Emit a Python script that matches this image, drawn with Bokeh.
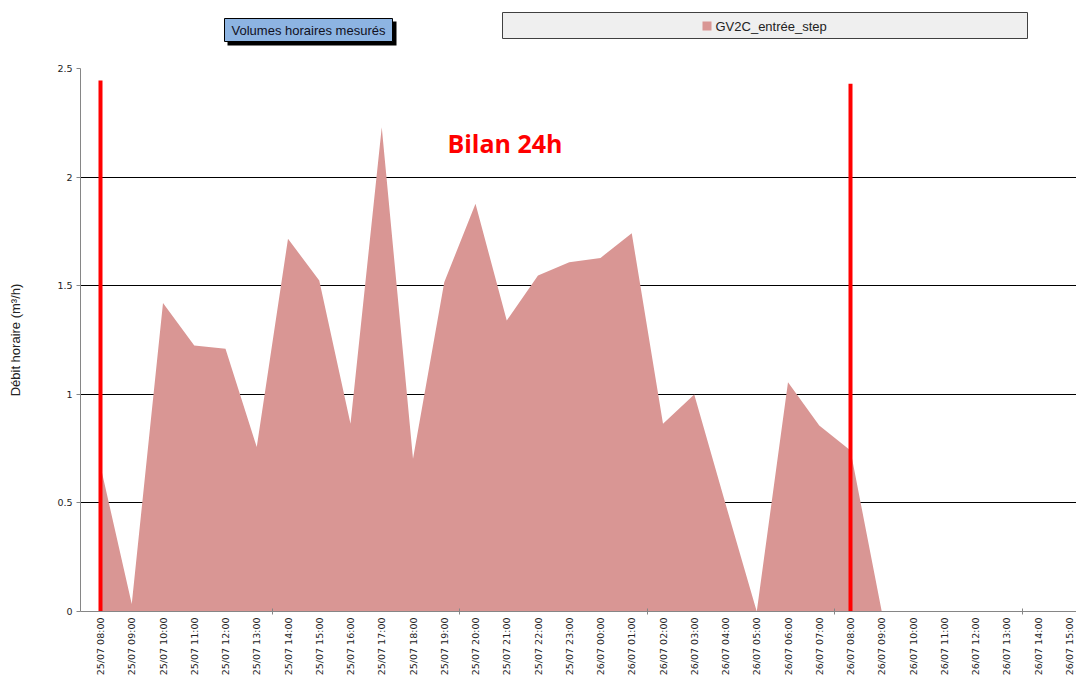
import math
from bokeh.plotting import figure
from bokeh.models import Range1d, FixedTicker, NumeralTickFormatter, Label
from bokeh.layouts import column
from bokeh.embed import file_html
from bokeh.resources import INLINE
from bokeh.core.properties import value

# ---------------- data ----------------
hours = [
    "25/07 08:00", "25/07 09:00", "25/07 10:00", "25/07 11:00", "25/07 12:00",
    "25/07 13:00", "25/07 14:00", "25/07 15:00", "25/07 16:00", "25/07 17:00",
    "25/07 18:00", "25/07 19:00", "25/07 20:00", "25/07 21:00", "25/07 22:00",
    "25/07 23:00", "26/07 00:00", "26/07 01:00", "26/07 02:00", "26/07 03:00",
    "26/07 04:00", "26/07 05:00", "26/07 06:00", "26/07 07:00", "26/07 08:00",
    "26/07 09:00", "26/07 10:00", "26/07 11:00", "26/07 12:00", "26/07 13:00",
    "26/07 14:00", "26/07 15:00",
]
# GV2C_entrée_step, m3/h (values exist up to 26/07 09:00)
debit = [
    0.67, 0.035, 1.42, 1.225, 1.21, 0.757, 1.716, 1.524, 0.864, 2.23,
    0.703, 1.516, 1.877, 1.34, 1.547, 1.608, 1.628, 1.742, 0.864, 0.999,
    0.496, 0.0, 1.056, 0.856, 0.741, 0.0,
]
y_ticks = [0, 0.5, 1, 1.5, 2, 2.5]
bilan_hours = ["25/07 08:00", "26/07 08:00"]
bilan_tops = [2.445, 2.43]

# ---------------- layout constants ----------------
W = 1076
LEFT = 80
HEAD_H = 48
MAIN_H = 631
AREA_COLOR = "#D99694"

idx = list(range(len(debit)))
bilan_x = [hours.index(h) for h in bilan_hours]
step = 31.25
x0 = -20 / step
x1 = x0 + (W - LEFT) / step

# ---------------- header figure (page-pixel coordinates) ----------------
h = figure(width=W, height=HEAD_H, x_range=Range1d(LEFT, W), y_range=Range1d(HEAD_H, 0),
           output_backend="svg", toolbar_location=None,
           min_border_left=LEFT, min_border_right=0, min_border_top=0, min_border_bottom=0,
           x_axis_location=None, y_axis_location=None)
h.grid.visible = False
h.outline_line_color = None
# title box with shadow
h.quad(left=[227], right=[396], top=[21], bottom=[45], fill_color="black", line_color=None)
h.quad(left=[224], right=[392], top=[18], bottom=[41], fill_color="#8DB4E2",
       line_color="black", line_width=1)
h.text(x=[308], y=[29.5], text=["Volumes horaires mesurés"], text_align="center",
       text_baseline="middle", text_font=value("Liberation Sans"),
       text_font_size="13px", text_color="#111122")
# legend box
h.quad(left=[502], right=[1027], top=[12], bottom=[38], fill_color="#EFEFEF",
       line_color="#404040", line_width=1)
h.quad(left=[702], right=[711], top=[21], bottom=[30], fill_color=AREA_COLOR, line_color=None)
h.text(x=[715], y=[25.5], text=["GV2C_entrée_step"], text_align="left",
       text_baseline="middle", text_font=value("Liberation Sans"),
       text_font_size="13px", text_color="#222222")

# ---------------- main figure ----------------
p = figure(width=W, height=MAIN_H, x_range=Range1d(x0, x1), y_range=Range1d(0, 2.5),
           output_backend="svg", toolbar_location=None,
           min_border_left=LEFT, min_border_right=0, min_border_top=20, min_border_bottom=68)
p.outline_line_color = None
p.background_fill_color = "white"

p.varea(x=idx, y1=[0] * len(debit), y2=debit, fill_color=AREA_COLOR, fill_alpha=1.0)
p.segment(x0=bilan_x, y0=[0, 0], x1=bilan_x, y1=bilan_tops, line_color="#FF0000", line_width=4)

p.add_layout(Label(x=11.1, y=2.155, text="Bilan 24h", text_color="#FF0000",
                   text_font="Open Sans", text_font_style="bold", text_font_size="25px",
                   text_baseline="middle"))

# grid
p.xgrid.visible = False
p.ygrid.ticker = FixedTicker(ticks=y_ticks)
p.ygrid.grid_line_color = "black"
p.ygrid.grid_line_width = 1

# y axis
p.yaxis.ticker = FixedTicker(ticks=y_ticks)
p.yaxis.formatter = NumeralTickFormatter(format="0.[0]")
p.yaxis.axis_line_color = "#868686"
p.yaxis.major_tick_line_color = "#868686"
p.yaxis.major_tick_out = 4
p.yaxis.major_tick_in = 0
p.yaxis.minor_tick_line_color = None
p.yaxis.major_label_text_font = "DejaVu Sans"
p.yaxis.major_label_text_font_size = "9.5px"
p.yaxis.major_label_text_color = "#222222"
p.yaxis.major_label_standoff = 4
p.yaxis.axis_label = "Débit horaire (m³/h)"
p.yaxis.axis_label_text_font = "Liberation Sans"
p.yaxis.axis_label_text_font_style = "normal"
p.yaxis.axis_label_text_font_size = "13px"
p.yaxis.axis_label_text_color = "#222222"
p.yaxis.axis_label_standoff = 31

# x axis
p.xaxis.ticker = FixedTicker(ticks=list(range(len(hours))),
                             minor_ticks=[i + 0.5 for i in range(5, len(hours), 6)])
p.xaxis.major_label_overrides = {i: lab for i, lab in enumerate(hours)}
p.xaxis.major_label_orientation = math.pi / 2
p.xaxis.axis_line_color = "#868686"
p.xaxis.major_tick_out = 0
p.xaxis.major_tick_in = 0
p.xaxis.minor_tick_out = 3
p.xaxis.minor_tick_in = 3
p.xaxis.minor_tick_line_color = "#868686"
p.xaxis.major_label_text_font = "DejaVu Sans"
p.xaxis.major_label_text_font_size = "9.5px"
p.xaxis.major_label_text_color = "#222222"
p.xaxis.major_label_standoff = 3

layout = column(h, p, spacing=0)
open("out.html", "w").write(file_html(layout, INLINE))
